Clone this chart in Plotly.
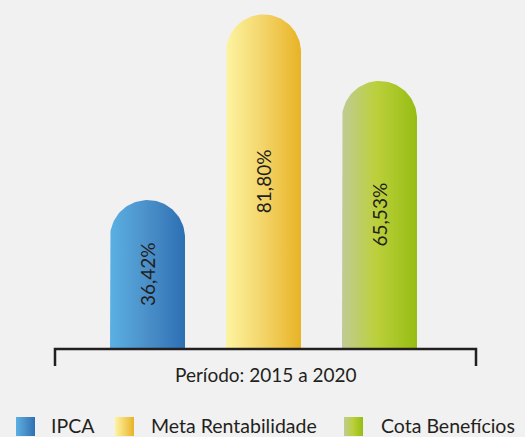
import numpy as np
import plotly.graph_objects as go

# Accumulated returns 2015-2020
categories = ["IPCA", "Meta Rentabilidade", "Cota Benefícios"]
values = [36.42, 81.80, 65.53]
value_labels = ["36,42%", "81,80%", "65,53%"]
period_label = "Período: 2015 a 2020"

gradients = [
    [[0, "#5ab0e3"], [0.5, "#4b8fc9"], [1, "#2c70b4"]],
    [[0, "#fdf4a2"], [0.5, "#f3d468"], [1, "#e8b325"]],
    [[0, "#bfcb95"], [0.45, "#bcd03c"], [1, "#96bd12"]],
]

W, H = 525, 437
FONT = "Lato"
TXT = "#231f20"

# pixel geometry of the plotting axes
x_px0, x_step = 147.5, 116.0          # centre of first bar, spacing
y_base_px, y_scale = 349.0, 4.09      # baseline pixel, pixels per unit
bar_px = 75.0

x_range = [(0 - x_px0) / x_step, (W - x_px0) / x_step]
y_range = [-(H - y_base_px) / y_scale, y_base_px / y_scale]

half_w = bar_px / 2 / x_step          # half bar width in x units
cap_r = bar_px / 2 / y_scale          # cap radius in y units

fig = go.Figure()

for i, (name, v) in enumerate(zip(categories, values)):
    c = i
    t = np.linspace(np.pi, 0, 60)
    cap_x = c + half_w * np.cos(t)
    cap_y = (v - cap_r) + cap_r * np.sin(t)
    xs = np.concatenate([[c - half_w], cap_x, [c + half_w, c - half_w]])
    ys = np.concatenate([[0], cap_y, [0, 0]])
    fig.add_trace(go.Scatter(
        x=xs, y=ys, mode="lines", fill="toself",
        line=dict(width=0, color="rgba(0,0,0,0)"),
        fillgradient=dict(type="horizontal", colorscale=gradients[i]),
        hoverinfo="skip", showlegend=False, name=name,
    ))
    fig.add_annotation(
        x=c, y=v / 2, text=value_labels[i], textangle=-90, showarrow=False,
        font=dict(family=FONT, size=19, color=TXT),
    )

# category axis line with end ticks
ax_l = (55 - x_px0) / x_step
ax_r = (476 - x_px0) / x_step
tick = 17 / y_scale
fig.add_trace(go.Scatter(
    x=[ax_l, ax_l, ax_r, ax_r], y=[-tick, 0, 0, -tick], mode="lines",
    line=dict(color=TXT, width=2.5), hoverinfo="skip", showlegend=False,
))
fig.add_annotation(
    x=(265.5 - x_px0) / x_step, y=-(374 - y_base_px) / y_scale,
    text=period_label, showarrow=False,
    font=dict(family=FONT, size=19, color=TXT),
)

# legend drawn on an overlay axis in pixel units
legend_sq_x = [16, 115, 344]
legend_txt_x = [49, 149, 379]
sq, sq_top = 19, 417
for i, name in enumerate(categories):
    x0 = legend_sq_x[i]
    fig.add_trace(go.Scatter(
        x=[x0, x0 + sq, x0 + sq, x0, x0], y=[sq_top, sq_top, sq_top + sq, sq_top + sq, sq_top],
        xaxis="x2", yaxis="y2", mode="lines", fill="toself",
        line=dict(width=0, color="rgba(0,0,0,0)"),
        fillgradient=dict(type="horizontal", colorscale=gradients[i]),
        hoverinfo="skip", showlegend=False,
    ))
    fig.add_annotation(
        x=legend_txt_x[i], y=sq_top + sq / 2 - 1, xref="x2", yref="y2",
        text=name, showarrow=False, xanchor="left", yanchor="middle",
        font=dict(family=FONT, size=19.5, color=TXT),
    )

hidden = dict(visible=False, showgrid=False, zeroline=False, fixedrange=True)
fig.update_layout(
    width=W, height=H,
    margin=dict(l=0, r=0, t=0, b=0),
    paper_bgcolor="#f1f1f1", plot_bgcolor="rgba(0,0,0,0)",
    xaxis=dict(range=x_range, domain=[0, 1], **hidden),
    yaxis=dict(range=y_range, domain=[0, 1], **hidden),
    xaxis2=dict(range=[0, W], domain=[0, 1], anchor="y2", overlaying="x", **hidden),
    yaxis2=dict(range=[H, 0], domain=[0, 1], anchor="x2", overlaying="y", **hidden),
    showlegend=False,
)

fig.write_html("out.html")
